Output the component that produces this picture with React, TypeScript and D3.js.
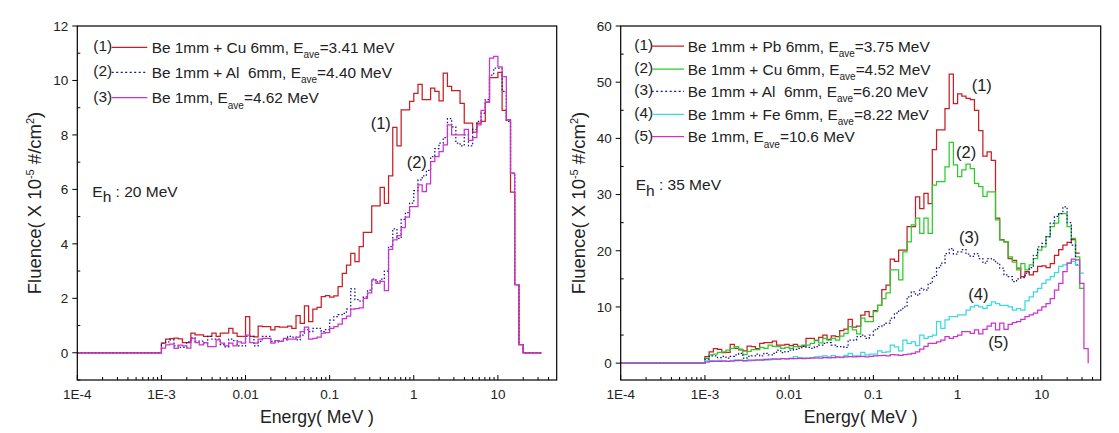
import React from "react";
import * as d3 from "d3";

// ---------- DATA ----------
// Histogram bins: 20 per decade, bin n spans 10^(-3+n/20) .. 10^(-3+(n+1)/20) MeV
const X_TICKS = [1e-4, 1e-3, 0.01, 0.1, 1, 10];
const X_TICK_LABELS = ["1E-4", "1E-3", "0.01", "0.1", "1", "10"];

const LEFT_Y_MAJOR = [0, 2, 4, 6, 8, 10, 12];
const LEFT_Y_MINOR = [-1, 1, 3, 5, 7, 9, 11];
const RIGHT_Y_MAJOR = [0, 10, 20, 30, 40, 50, 60];
const RIGHT_Y_MINOR = [5, 15, 25, 35, 45, 55];

// Left panel (Eh = 20 MeV)
const leftCu = [
  0.35, 0.5, 0.52, 0.54, 0.51, 0.37, 0.37, 0.72, 0.66, 0.66,
  0.6, 0.6, 0.72, 0.6, 0.72, 0.72, 0.9, 0.72, 0.6, 0.6,
  1.33, 0.6, 0.58, 0.98, 0.96, 0.96, 0.84, 0.96, 0.94, 0.94,
  0.98, 0.9, 1.36, 1.08, 1.72, 1.14, 1.6, 1.67, 2.06, 2.1,
  2.04, 2.09, 2.43, 2.92, 3.22, 3.65, 3.35, 3.9, 4.42, 4.42,
  5.39, 5.39, 6.07, 5.49, 6.5, 8.28, 7.6, 8.92, 8.92, 9.23,
  9.53, 9.86, 9.3, 9.3, 9.72, 9.6, 9.25, 10.27, 9.78, 9.63,
  9.63, 9.16, 8.43, 8.43, 8.1, 8.43, 8.5, 9.2, 10.1, 10.1,
  10.3, 8.9, 8.55, 5.9, 2.5, 0.3,
];
const leftAl = [
  0.35, 0.4, 0.47, 0.25, 0.2, 0.2, 0.4, 0.55, 0.43, 0.43,
  0.35, 0.6, 0.5, 0.5, 0.3, 0.22, 0.5, 0.45, 0.25, 0.25,
  0.6, 0.6, 0.25, 0.42, 0.6, 0.6, 0.42, 0.4, 0.42, 0.47,
  0.6, 0.57, 0.47, 0.65, 0.85, 0.78, 0.9, 0.9, 0.78, 0.85,
  1.2, 1.33, 1.4, 1.45, 1.6, 2.35, 1.95, 1.9, 2.05, 2.3,
  2.7, 2.6, 2.7, 3.0, 3.9, 4.55, 4.2, 4.9, 5.15, 5.5,
  5.95, 6.35, 6.5, 6.7, 7.2, 7.5, 7.7, 7.9, 8.6, 8.3,
  7.7, 7.6, 8.0, 7.6, 8.2, 8.5, 8.8, 9.3, 10.2, 10.45,
  10.45, 9.6, 8.5, 6.6, 2.5, 0.3,
];
const leftBe = [
  0.17, 0.29, 0.32, 0.16, 0.28, 0.25, 0.17, 0.53, 0.37, 0.29,
  0.37, 0.23, 0.23, 0.47, 0.35, 0.25, 0.35, 0.25, 0.4, 0.35,
  0.65, 0.37, 0.35, 0.5, 0.53, 0.53, 0.35, 0.45, 0.42, 0.53,
  0.5, 0.5, 0.57, 0.78, 0.94, 0.5, 0.53, 0.57, 0.72, 0.74,
  0.9, 0.96, 1.05, 1.25, 1.35, 1.6, 1.62, 1.65, 2.0, 2.2,
  2.68, 2.55, 2.62, 2.28, 3.8, 4.15, 4.3, 4.6, 4.98, 5.37,
  5.37, 6.17, 5.92, 6.2, 7.02, 7.2, 7.39, 7.63, 8.37, 8.0,
  8.0, 8.0, 8.2, 7.8, 7.9, 8.37, 8.9, 9.2, 10.82, 10.88,
  10.5, 10.14, 8.55, 6.6, 2.5, 0.3,
];

// Right panel (Eh = 35 MeV)
const rightPb = [
  1.15, 2.0, 2.6, 2.45, 1.85, 1.9, 3.35, 2.65, 2.35, 2.2,
  3.05, 2.95, 2.6, 3.5, 3.64, 3.64, 3.93, 3.2, 3.2, 3.35,
  3.1, 3.35, 2.95, 3.05, 4.41, 4.41, 4.0, 4.6, 5.0, 4.25,
  4.85, 4.7, 5.78, 6.07, 7.8, 6.4, 6.6, 8.56, 9.15, 8.3,
  9.33, 10.3, 13.1, 13.9, 18.5, 18.1, 20.1, 20.1, 24.3, 24.3,
  29.6, 27.5, 30.2, 28.4, 38.0, 41.5, 41.5, 45.3, 51.45, 46.2,
  47.9, 47.5, 47.1, 46.9, 45.0, 41.4, 36.85, 37.6, 36.1, 25.8,
  22.0, 21.6, 18.6, 18.3, 16.9, 15.4, 16.3, 15.7, 16.3, 17.2,
  17.3, 17.0, 17.7, 19.2, 20.2, 21.0, 21.5, 22.0, 19.6,
];
const rightCu = [
  0.85, 1.45, 1.6, 1.9, 2.0, 2.3, 2.65, 2.95, 2.5, 1.5,
  2.1, 2.4, 2.4, 2.8, 2.65, 3.2, 3.0, 2.95, 2.65, 2.8,
  2.65, 2.95, 3.05, 3.2, 3.2, 3.5, 4.1, 3.6, 4.4, 4.1,
  4.4, 4.1, 4.8, 5.3, 6.5, 5.9, 5.2, 8.0, 7.4, 7.4,
  9.15, 10.3, 11.5, 12.5, 16.6, 16.6, 14.8, 19.8, 21.6, 24.6,
  25.8, 23.1, 25.8, 23.1, 31.7, 32.3, 32.3, 34.95, 39.3, 35.3,
  33.2, 34.4, 35.4, 34.6, 32.0, 31.4, 29.7, 30.5, 30.5, 25.5,
  21.9, 21.6, 18.9, 18.0, 16.6, 17.7, 16.6, 17.5, 18.6, 20.1,
  20.7, 22.5, 24.3, 24.9, 26.6, 26.6, 24.3, 22.2, 18.9, 13.3,
];
const rightAl = [
  0.7, 1.3, 1.3, 1.0, 1.2, 0.9, 1.2, 1.45, 1.75, 0.9,
  1.2, 1.3, 1.6, 1.3, 1.75, 1.45, 1.75, 2.3, 1.85, 2.05,
  2.3, 2.45, 2.63, 3.05, 2.8, 2.63, 2.93, 3.2, 3.5, 3.64,
  3.2, 2.93, 2.93, 2.8, 4.1, 4.1, 4.7, 5.0, 4.4, 5.0,
  5.9, 6.5, 6.8, 7.1, 8.0, 8.9, 9.45, 10.0, 11.8, 12.7,
  12.1, 13.3, 13.0, 14.2, 15.4, 17.0, 17.8, 19.5, 20.4, 19.4,
  19.8, 20.2, 19.4, 19.0, 19.5, 18.6, 17.8, 18.6, 18.4, 17.8,
  16.9, 15.7, 15.4, 14.5, 15.0, 15.2, 16.0, 17.0, 19.2, 20.7,
  21.3, 22.5, 24.9, 26.1, 26.6, 27.8, 25.0, 21.0, 17.5,
];
const rightFe = [
  0.4, 0.45, 0.4, 0.5, 0.4, 0.35, 0.5, 0.6, 0.55, 0.35,
  0.4, 0.45, 0.5, 0.5, 0.55, 0.6, 0.8, 0.7, 0.8, 0.75,
  0.75, 1.15, 1.0, 0.95, 0.9, 1.0, 1.1, 1.2, 1.3, 1.1,
  1.35, 1.0, 1.0, 1.4, 1.75, 1.3, 1.3, 1.9, 1.45, 1.6,
  1.6, 2.2, 1.9, 2.0, 3.2, 2.9, 2.2, 4.1, 3.5, 3.8,
  3.1, 5.0, 4.4, 4.7, 5.0, 7.4, 6.2, 7.7, 8.3, 8.3,
  8.6, 8.6, 9.45, 10.0, 10.3, 10.0, 9.75, 10.3, 10.9, 10.6,
  10.3, 10.3, 10.0, 9.45, 9.7, 9.45, 11.1, 11.8, 12.7, 13.3,
  14.2, 14.8, 15.4, 16.1, 17.2, 17.5, 17.8, 18.1, 17.4, 16.0,
];
const rightBe = [
  0.2, 0.3, 0.3, 0.3, 0.35, 0.3, 0.35, 0.45, 0.5, 0.45,
  0.55, 0.55, 0.6, 0.6, 0.65, 0.7, 0.7, 0.7, 0.8, 0.75,
  0.85, 0.8, 0.85, 0.8, 0.85, 0.9, 0.95, 0.9, 1.0, 0.95,
  1.0, 1.1, 1.05, 1.1, 1.15, 1.1, 1.15, 1.2, 1.1, 1.2,
  1.3, 1.35, 1.4, 1.3, 1.5, 1.45, 1.4, 1.5, 1.6, 1.75,
  2.0, 2.5, 3.0, 3.5, 3.5, 3.8, 4.1, 4.7, 4.4, 4.7,
  5.0, 5.6, 5.6, 5.3, 5.9, 5.2, 6.0, 6.6, 7.1, 5.9,
  7.1, 6.0, 6.9, 7.2, 7.4, 7.8, 8.3, 8.6, 8.9, 9.45,
  10.0, 10.6, 11.5, 13.0, 14.2, 16.3, 17.8, 18.5, 18.4, 14.2,
  2.6,
];

const LEFT_LEGEND = [
  { tag: "(1)", pre: "Be 1mm + Cu 6mm, E", post: "=3.41 MeV" },
  { tag: "(2)", pre: "Be 1mm + Al  6mm, E", post: "=4.40 MeV" },
  { tag: "(3)", pre: "Be 1mm, E", post: "=4.62 MeV" },
];
const RIGHT_LEGEND = [
  { tag: "(1)", pre: "Be 1mm + Pb 6mm, E", post: "=3.75 MeV" },
  { tag: "(2)", pre: "Be 1mm + Cu 6mm, E", post: "=4.52 MeV" },
  { tag: "(3)", pre: "Be 1mm + Al  6mm, E", post: "=6.20 MeV" },
  { tag: "(4)", pre: "Be 1mm + Fe 6mm, E", post: "=8.22 MeV" },
  { tag: "(5)", pre: "Be 1mm, E", post: "=10.6 MeV" },
];

// ---------- STYLE ----------
const RED = "#c81e23";
const GREEN = "#2ccb2c";
const NAVY = "#14148c";
const CYAN = "#38dcdc";
const MAGENTA = "#cc33cc";
const TEXT = "#222";
const FONT = "'Liberation Sans', Arial, sans-serif";

const edge = (n: number) => Math.pow(10, -3 + n / 20);

function buildPoints(values: number[], tailEnd: number | null, dropToZero: boolean) {
  const pts: [number, number][] = [[1e-4, 0]];
  values.forEach((v, i) => pts.push([edge(i), v]));
  const N = values.length;
  pts.push([edge(N), values[N - 1]]);
  if (dropToZero || tailEnd) pts.push([edge(N), 0]);
  if (tailEnd) pts.push([tailEnd, 0]);
  return pts;
}

type Series = { values: number[]; color: string; dash?: string; tail?: number | null; drop?: boolean };
type Legend = { tag: string; pre: string; post: string };

function Panel(props: {
  x0: number; x1: number; yDomain: [number, number]; yMajor: number[]; yMinor: number[];
  series: Series[]; legend: Legend[]; legendColors: { color: string; dash?: string }[];
  legendX: [number, number, number, number]; legendRows: number[];
  labels: { t: string; x: number; y: number }[]; eh: { x: number; y: number; t: string };
  titleX: number;
}) {
  const { x0, x1, yDomain, yMajor, yMinor, series, legend, legendColors, legendX, legendRows, labels, eh, titleX } = props;
  const top = 26, bottom = 380;
  const x = d3.scaleLog().domain([1e-4, 50]).range([x0, x1]);
  const y = d3.scaleLinear().domain(yDomain).range([bottom, top]);
  const line = d3.line<[number, number]>().x((d) => x(d[0])).y((d) => y(d[1])).curve(d3.curveStepAfter);

  const minorX: number[] = [];
  for (let e = -4; e <= 1; e++) for (let k = 2; k <= 9; k++) {
    const v = k * Math.pow(10, e);
    if (v < 50) minorX.push(v);
  }
  const tickFs = 13.5;
  const legFs = 15.4;
  const cx = (x0 + x1) / 2;
  return (
    <g fontFamily={FONT} fill={TEXT}>
      {series.map((s, i) => (
        <path key={i} d={line(buildPoints(s.values, s.tail ?? null, !!s.drop)) || ""} fill="none"
          stroke={s.color} strokeWidth={1.25} strokeDasharray={s.dash} />
      ))}
      <rect x={x0} y={top} width={x1 - x0} height={bottom - top} fill="none" stroke="#000" strokeWidth={1.2} />
      {X_TICKS.map((t, i) => (
        <g key={"xt" + i}>
          <line x1={x(t)} x2={x(t)} y1={bottom} y2={bottom - 5} stroke="#000" strokeWidth={1} />
          <text x={x(t)} y={394.5 + 0.36 * tickFs} fontSize={tickFs} textAnchor="middle">{X_TICK_LABELS[i]}</text>
        </g>
      ))}
      {minorX.map((t, i) => (
        <line key={"xm" + i} x1={x(t)} x2={x(t)} y1={bottom} y2={bottom - 3} stroke="#000" strokeWidth={1} />
      ))}
      {yMajor.map((t, i) => (
        <g key={"yt" + i}>
          <line x1={x0 - 5} x2={x0} y1={y(t)} y2={y(t)} stroke="#000" strokeWidth={1} />
          <text x={x0 - 9} y={y(t) + 0.36 * tickFs} fontSize={tickFs} textAnchor="end">{t}</text>
        </g>
      ))}
      {yMinor.map((t, i) => (
        <line key={"ym" + i} x1={x0} x2={x0 + 3} y1={y(t)} y2={y(t)} stroke="#000" strokeWidth={1} />
      ))}
      <text x={cx} y={423} fontSize={17.7} textAnchor="middle">Energy( MeV )</text>
      <text transform={`translate(${titleX},${(top + bottom) / 2}) rotate(-90)`} fontSize={18.5} textAnchor="middle">
        Fluence( X 10<tspan fontSize={11} dy={-7}>-5</tspan><tspan dy={7}> #/cm</tspan>
        <tspan fontSize={11} dy={-7}>2</tspan><tspan dy={7}>)</tspan>
      </text>
      {legend.map((l, i) => {
        const cy = legendRows[i];
        const c = legendColors[i];
        return (
          <g key={"lg" + i}>
            <text x={legendX[0]} y={cy + 0.27 * legFs} fontSize={legFs}>{l.tag}</text>
            <line x1={legendX[1]} x2={legendX[2]} y1={cy} y2={cy} stroke={c.color} strokeWidth={1.25} strokeDasharray={c.dash} />
            <text x={legendX[3]} y={cy + 0.36 * legFs} fontSize={legFs} style={{ whiteSpace: "pre" }}>
              {l.pre}<tspan fontSize={10} dy={5.6}>ave</tspan><tspan dy={-5.6}>{l.post}</tspan>
            </text>
          </g>
        );
      })}
      {labels.map((l, i) => (
        <text key={"lb" + i} x={l.x} y={l.y + 0.27 * 16.5} fontSize={16.5}>{l.t}</text>
      ))}
      <text x={eh.x} y={eh.y} fontSize={15.5} style={{ whiteSpace: "pre" }}>
        E<tspan fontSize={15.5} dy={5.5}>h</tspan><tspan dy={-5.5}>{eh.t}</tspan>
      </text>
    </g>
  );
}

export default function App() {
  return (
    <svg width={1119} height={433} style={{ position: "absolute", left: 0, top: 0, background: "#fff" }}>
      <rect x={0} y={0} width={1119} height={433} fill="#fff" />
      <Panel
        x0={77.3} x1={556.7} yDomain={[-1, 12]} yMajor={LEFT_Y_MAJOR} yMinor={LEFT_Y_MINOR}
        series={[
          { values: leftCu, color: RED, tail: 33 },
          { values: leftAl, color: NAVY, dash: "1.5,2", tail: 33 },
          { values: leftBe, color: MAGENTA, tail: 33 },
        ]}
        legend={LEFT_LEGEND}
        legendColors={[{ color: RED }, { color: NAVY, dash: "2,2.5" }, { color: MAGENTA }]}
        legendX={[93.3, 111.7, 147.3, 151.7]}
        legendRows={[47.3, 72.3, 97.7]}
        labels={[{ t: "(1)", x: 370.7, y: 125 }, { t: "(2)", x: 406.7, y: 163.5 }]}
        eh={{ x: 92.3, y: 196.7, t: " : 20 MeV" }}
        titleX={40.7}
      />
      <Panel
        x0={620.7} x1={1100.7} yDomain={[-3, 60]} yMajor={RIGHT_Y_MAJOR} yMinor={RIGHT_Y_MINOR}
        series={[
          { values: rightPb, color: RED },
          { values: rightCu, color: GREEN },
          { values: rightAl, color: NAVY, dash: "1.5,2" },
          { values: rightFe, color: CYAN },
          { values: rightBe, color: MAGENTA, drop: true },
        ]}
        legend={RIGHT_LEGEND}
        legendColors={[{ color: RED }, { color: GREEN }, { color: NAVY, dash: "2,2.5" }, { color: CYAN }, { color: MAGENTA }]}
        legendX={[634.3, 651.7, 684, 687.7]}
        legendRows={[46, 69, 91.3, 114.3, 136.7]}
        labels={[
          { t: "(1)", x: 971.7, y: 86.7 },
          { t: "(2)", x: 956, y: 154 },
          { t: "(3)", x: 959, y: 238.3 },
          { t: "(4)", x: 968.3, y: 296 },
          { t: "(5)", x: 988.3, y: 343.3 },
        ]}
        eh={{ x: 635.7, y: 190, t: " : 35 MeV" }}
        titleX={584.7}
      />
    </svg>
  );
}
